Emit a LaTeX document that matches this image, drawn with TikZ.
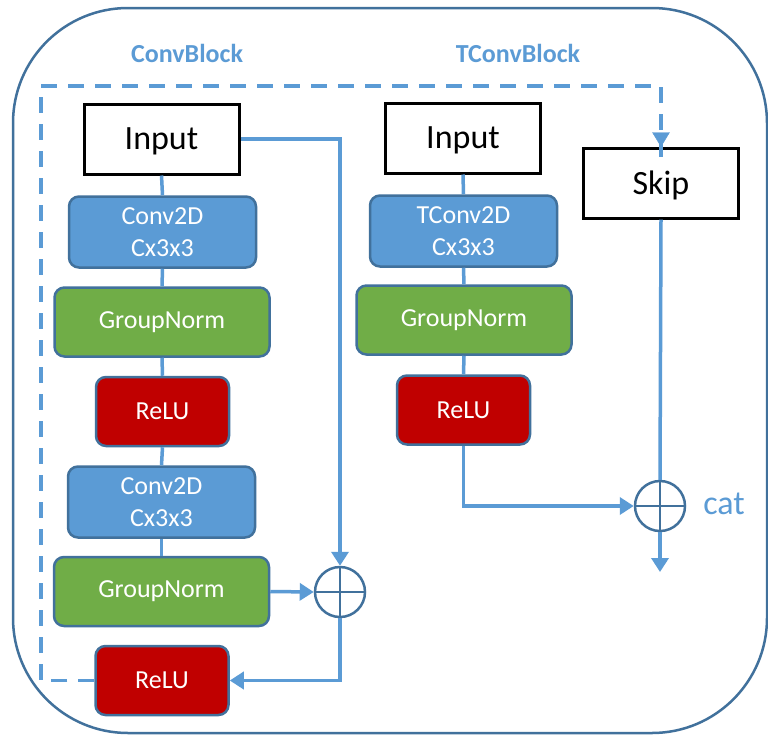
\documentclass[tikz,border=0pt]{standalone}
\usepackage{fontspec}
\setmainfont{Carlito}
\usetikzlibrary{arrows.meta}
\definecolor{cblue}{HTML}{5B9BD5}
\definecolor{cgreen}{HTML}{70AD47}
\definecolor{cred}{HTML}{C00000}
\definecolor{cedge}{HTML}{41719C}
\begin{document}
\begin{tikzpicture}[x=1pt,y=-1pt,
  layer/.style={draw=cedge, line width=2.5pt, rounded corners=10pt, inner sep=0pt,
    text=white, align=center, font=\fontsize{26}{32}\selectfont},
  bluebox/.style={layer, fill=cblue, minimum width=187pt, minimum height=71pt},
  greenbox/.style={layer, fill=cgreen, minimum width=215pt, minimum height=69pt},
  redbox/.style={layer, fill=cred, minimum width=133pt, minimum height=69pt},
  plainbox/.style={draw=black, line width=3pt, fill=white, inner sep=0pt,
    minimum width=155pt, minimum height=70pt, text depth=0pt,
    font=\fontsize{34}{40}\selectfont},
  plus/.style={circle, draw=cedge, line width=2.5pt, minimum size=50pt, inner sep=0pt,
    path picture={\draw[cedge, line width=2.5pt]
      (path picture bounding box.north) -- (path picture bounding box.south)
      (path picture bounding box.west) -- (path picture bounding box.east);}},
  conn/.style={draw=cblue, line width=3.5pt},
  arr/.style={conn, -{Triangle[length=14pt,width=17pt]}},
  dashconn/.style={draw=cblue, line width=3.5pt, dash pattern=on 16pt off 11pt},
  title/.style={text=cblue, font=\fontsize{26}{30}\selectfont\bfseries}
]
\useasboundingbox (0,0) rectangle (768,734);
\fill[white] (0,0) rectangle (768,734);
\draw[cedge, line width=2.5pt, rounded corners=115pt] (13,8) rectangle (767,733);

\node[title] (tconvblock) at (187,53) {ConvBlock};
\node[title] (ttconv) at (518,53) {TConvBlock};

% left column
\node[plainbox] (in1) at (161.5,139) {Input};
\node[bluebox] (c1) at (162.5,232) {Conv2D\\Cx3x3};
\node[greenbox] (g1) at (162,322) {GroupNorm};
\node[redbox] (r1) at (162.5,411.5) {ReLU};
\node[bluebox] (c2) at (161.5,502) {Conv2D\\Cx3x3};
\node[greenbox] (g2) at (161.5,591.5) {GroupNorm};
\node[redbox] (r2) at (162,680.5) {ReLU};
\node[plus] (p1) at (340,592) {};

% right column
\node[plainbox] (in2) at (463,138) {Input};
\node[bluebox] (tc) at (463.5,231) {TConv2D\\Cx3x3};
\node[greenbox] (g3) at (464,320) {GroupNorm};
\node[redbox] (r3) at (463.5,410) {ReLU};
\node[plainbox] (skip) at (661,183) {Skip};
\node[plus] (p2) at (660,506) {};
\node[text=cblue, font=\fontsize{34}{40}\selectfont] (cat) at (724,504) {cat};
\coordinate (out) at (660,572);

% vertical chains
\draw[conn] (in1.south) -- (c1.north);
\draw[conn] (c1.south) -- (g1.north);
\draw[conn] (g1.south) -- (r1.north);
\draw[conn] (r1.south) -- (c2.north);
\draw[conn] (c2.south) -- (g2.north);
\draw[conn] (in2.south) -- (tc.north);
\draw[conn] (tc.south) -- (g3.north);
\draw[conn] (g3.south) -- (r3.north);

% residual
\draw[arr] (in1.east) -| (p1.north);
\draw[arr] (g2.east) -- (p1.west);
\draw[arr] (p1.south) |- (r2.east);

% dashed skip
\draw[dashconn] (r2.west) -- (41,680.5) -- (41,86) -- (661,86) -- ([yshift=-14pt]skip.north);
\draw[cblue, fill=cblue] (skip.north) -- ++(-8.5,-14) -- ++(17,0) -- cycle;

% cat
\draw[arr] (r3.south) |- (p2.west);
\draw[conn] (skip.south) -- (p2.north);
\draw[arr] (p2.south) -- (out);
\end{tikzpicture}
\end{document}
